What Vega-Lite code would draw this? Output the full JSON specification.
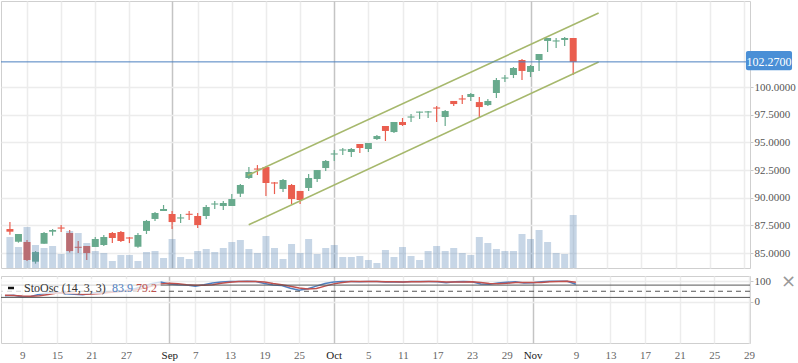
{
"$schema": "https://vega.github.io/schema/vega-lite/v6.json",
"padding": 0,
"background": "white",
"bounds": "flush",
"spacing": 8,
"config": {"view": {"stroke": "#cfcfcf"}, "font": "Liberation Serif"},
"datasets": {
"ohlc": [
{"i":0,"o":87.17,"h":87.80,"l":86.66,"c":86.93,"v":3.1},
{"i":1,"o":86.03,"h":86.72,"l":85.94,"c":86.72,"v":2.1},
{"i":2,"o":86.00,"h":86.18,"l":84.28,"c":84.37,"v":4.1},
{"i":3,"o":84.22,"h":85.18,"l":84.04,"c":85.09,"v":2.3},
{"i":4,"o":85.84,"h":86.90,"l":85.84,"c":86.81,"v":2.0},
{"i":5,"o":86.93,"h":87.17,"l":86.57,"c":87.08,"v":2.2},
{"i":6,"o":87.31,"h":87.53,"l":86.90,"c":87.21,"v":1.4},
{"i":7,"o":86.81,"h":87.08,"l":85.06,"c":85.18,"v":3.7},
{"i":8,"o":85.57,"h":86.09,"l":85.00,"c":85.47,"v":3.5},
{"i":9,"o":85.64,"h":85.64,"l":84.37,"c":85.00,"v":2.5},
{"i":10,"o":85.55,"h":86.45,"l":85.55,"c":86.27,"v":1.7},
{"i":11,"o":85.73,"h":86.63,"l":85.64,"c":86.45,"v":1.5},
{"i":12,"o":86.81,"h":86.90,"l":85.90,"c":86.36,"v":0.7},
{"i":13,"o":86.90,"h":86.99,"l":86.00,"c":86.09,"v":1.3},
{"i":14,"o":86.41,"h":86.45,"l":85.90,"c":86.31,"v":1.3},
{"i":15,"o":85.57,"h":86.81,"l":85.48,"c":86.63,"v":0.7},
{"i":16,"o":87.00,"h":87.99,"l":86.72,"c":87.90,"v":1.6},
{"i":17,"o":88.08,"h":88.71,"l":87.90,"c":88.62,"v":1.7},
{"i":18,"o":88.80,"h":89.34,"l":88.80,"c":88.98,"v":1.0},
{"i":19,"o":88.53,"h":88.80,"l":87.17,"c":87.80,"v":2.9},
{"i":20,"o":88.12,"h":88.53,"l":87.71,"c":88.22,"v":1.1},
{"i":21,"o":88.55,"h":88.80,"l":87.99,"c":88.45,"v":0.9},
{"i":22,"o":88.35,"h":88.62,"l":87.26,"c":87.53,"v":1.7},
{"i":23,"o":88.35,"h":89.34,"l":88.08,"c":89.16,"v":1.9},
{"i":24,"o":89.38,"h":89.70,"l":88.98,"c":89.48,"v":1.6},
{"i":25,"o":89.25,"h":89.70,"l":88.89,"c":89.52,"v":2.0},
{"i":26,"o":89.25,"h":90.33,"l":89.25,"c":89.88,"v":2.6},
{"i":27,"o":90.36,"h":91.24,"l":90.06,"c":91.15,"v":2.8},
{"i":28,"o":91.78,"h":92.77,"l":91.69,"c":92.32,"v":1.9},
{"i":29,"o":92.64,"h":92.95,"l":92.05,"c":92.54,"v":1.5},
{"i":30,"o":92.77,"h":92.86,"l":90.15,"c":91.33,"v":3.2},
{"i":31,"o":91.38,"h":91.42,"l":90.33,"c":91.28,"v":2.0},
{"i":32,"o":90.79,"h":91.69,"l":90.51,"c":91.60,"v":0.9},
{"i":33,"o":91.15,"h":91.24,"l":89.43,"c":89.88,"v":2.4},
{"i":34,"o":90.61,"h":90.61,"l":89.43,"c":89.79,"v":1.5},
{"i":35,"o":90.88,"h":92.14,"l":90.61,"c":91.78,"v":2.9},
{"i":36,"o":91.69,"h":92.50,"l":91.42,"c":92.50,"v":1.4},
{"i":37,"o":92.68,"h":93.41,"l":92.41,"c":93.32,"v":2.0},
{"i":38,"o":93.90,"h":94.31,"l":93.32,"c":94.00,"v":2.3},
{"i":39,"o":94.26,"h":94.49,"l":93.86,"c":94.36,"v":1.1},
{"i":40,"o":94.13,"h":94.49,"l":93.68,"c":94.40,"v":1.1},
{"i":41,"o":94.85,"h":94.85,"l":94.04,"c":94.49,"v":1.2},
{"i":42,"o":94.40,"h":94.94,"l":94.13,"c":94.94,"v":0.8},
{"i":43,"o":95.30,"h":95.66,"l":95.21,"c":95.57,"v":0.5},
{"i":44,"o":96.48,"h":96.48,"l":95.12,"c":96.03,"v":1.8},
{"i":45,"o":95.93,"h":96.84,"l":95.84,"c":96.84,"v":1.1},
{"i":46,"o":96.84,"h":97.20,"l":96.48,"c":96.57,"v":2.1},
{"i":47,"o":97.24,"h":97.56,"l":96.84,"c":97.34,"v":1.2},
{"i":48,"o":97.68,"h":97.78,"l":97.11,"c":97.78,"v":0.8},
{"i":49,"o":97.70,"h":97.83,"l":97.20,"c":97.80,"v":1.7},
{"i":50,"o":98.15,"h":98.28,"l":96.84,"c":98.05,"v":2.2},
{"i":51,"o":97.29,"h":97.92,"l":96.48,"c":97.83,"v":1.7},
{"i":52,"o":98.74,"h":98.74,"l":98.28,"c":98.46,"v":2.0},
{"i":53,"o":98.97,"h":99.28,"l":98.46,"c":98.87,"v":1.5},
{"i":54,"o":99.10,"h":99.46,"l":98.74,"c":99.37,"v":1.3},
{"i":55,"o":98.64,"h":99.10,"l":97.30,"c":98.19,"v":3.1},
{"i":56,"o":98.37,"h":98.92,"l":98.28,"c":98.74,"v":2.5},
{"i":57,"o":99.46,"h":100.81,"l":99.00,"c":100.63,"v":1.9},
{"i":58,"o":100.76,"h":101.08,"l":100.45,"c":100.86,"v":1.7},
{"i":59,"o":101.08,"h":101.81,"l":100.81,"c":101.72,"v":1.7},
{"i":60,"o":102.44,"h":102.53,"l":100.63,"c":101.45,"v":3.4},
{"i":61,"o":101.36,"h":101.99,"l":100.90,"c":101.90,"v":2.9},
{"i":62,"o":102.44,"h":102.98,"l":101.45,"c":102.98,"v":3.8},
{"i":63,"o":104.16,"h":104.43,"l":103.16,"c":104.43,"v":2.6},
{"i":64,"o":104.11,"h":104.43,"l":103.52,"c":104.21,"v":1.5},
{"i":65,"o":104.25,"h":104.52,"l":103.70,"c":104.43,"v":1.4},
{"i":66,"o":104.43,"h":104.43,"l":101.08,"c":102.27,"v":5.3}
],
"osc": [
{"i":0,"k":28,"d":30},{"i":1,"k":30,"d":29},{"i":2,"k":22,"d":27},{"i":3,"k":25,"d":26},{"i":4,"k":35,"d":28},
{"i":5,"k":42,"d":34},{"i":6,"k":45,"d":41},{"i":7,"k":38,"d":42},{"i":8,"k":35,"d":39},{"i":9,"k":33,"d":35},
{"i":10,"k":40,"d":36},{"i":11,"k":45,"d":39},{"i":12,"k":48,"d":44},{"i":13,"k":50,"d":48},{"i":14,"k":55,"d":51},
{"i":15,"k":62,"d":56},{"i":16,"k":75,"d":64},{"i":17,"k":88,"d":75},{"i":18,"k":95,"d":86},{"i":19,"k":85,"d":89},
{"i":20,"k":82,"d":87},{"i":21,"k":80,"d":82},{"i":22,"k":75,"d":79},{"i":23,"k":82,"d":79},{"i":24,"k":90,"d":82},
{"i":25,"k":95,"d":89},{"i":26,"k":97,"d":94},{"i":27,"k":98,"d":97},{"i":28,"k":99,"d":98},{"i":29,"k":97,"d":98},
{"i":30,"k":88,"d":95},{"i":31,"k":80,"d":88},{"i":32,"k":78,"d":82},{"i":33,"k":65,"d":74},{"i":34,"k":55,"d":66},
{"i":35,"k":62,"d":61},{"i":36,"k":75,"d":64},{"i":37,"k":88,"d":75},{"i":38,"k":95,"d":86},{"i":39,"k":97,"d":93},
{"i":40,"k":98,"d":97},{"i":41,"k":96,"d":97},{"i":42,"k":97,"d":97},{"i":43,"k":98,"d":97},{"i":44,"k":95,"d":96},
{"i":45,"k":96,"d":96},{"i":46,"k":95,"d":95},{"i":47,"k":97,"d":96},{"i":48,"k":97,"d":96},{"i":49,"k":97,"d":97},
{"i":50,"k":96,"d":97},{"i":51,"k":92,"d":95},{"i":52,"k":96,"d":95},{"i":53,"k":97,"d":95},{"i":54,"k":96,"d":96},
{"i":55,"k":85,"d":93},{"i":56,"k":84,"d":88},{"i":57,"k":90,"d":86},{"i":58,"k":94,"d":89},{"i":59,"k":96,"d":93},
{"i":60,"k":90,"d":93},{"i":61,"k":92,"d":93},{"i":62,"k":96,"d":93},{"i":63,"k":99,"d":96},{"i":64,"k":99,"d":98},
{"i":65,"k":99,"d":99},{"i":66,"k":83.9,"d":94}
],
"chan": [
{"g":"upper","i":27.86,"p":92.02},{"g":"upper","i":68.98,"p":106.68},
{"g":"lower","i":27.98,"p":87.56},{"g":"lower","i":68.98,"p":102.26}
]
},
"vconcat": [
{
"width": 749, "height": 267,
"resolve": {"scale": {"y": "independent"}},
"layer": [
{"data": {"name": "ohlc"}, "mark": {"type": "rule", "strokeWidth": 1.2},
 "encoding": {
  "x": {"field": "i", "type": "quantitative", "scale": {"domain": [-0.46, 86.13], "nice": false, "zero": false},
        "axis": {"values": [2,6,10,14,19,22,26,30,34,38,42,46,50,54,58,61,66,70,74,78,82,86], "tickCount": 200, "labels": false, "ticks": false, "domain": false, "title": null, "grid": true, "gridWidth": 1.5,
                 "gridColor": {"condition": {"test": "indexof([19,38,61], datum.value) >= 0", "value": "#c4c4c4"}, "value": "#ececec"}}},
  "y": {"field": "l", "type": "quantitative", "scale": {"domain": [83.65, 107.77], "nice": false, "zero": false},
        "axis": {"orient": "right", "values": [85,87.5,90,92.5,95,97.5,100], "tickCount": 200, "format": ".4f", "grid": true, "gridColor": "#ececec", "gridWidth": 1.5, "tickSize": 3, "tickColor": "#c8c8c8", "domain": false, "labelPadding": 1, "labelFontSize": 11, "labelColor": "#555", "labelFont": "Liberation Serif", "title": null}},
  "y2": {"field": "h"},
  "color": {"condition": {"test": "datum.c >= datum.o", "value": "#68aa8d"}, "value": "#ea5e4f"}
 }},
{"data": {"name": "ohlc"}, "mark": {"type": "bar", "size": 7},
 "encoding": {
  "x": {"field": "i", "type": "quantitative", "scale": {"domain": [-0.46, 86.13], "nice": false, "zero": false}},
  "y": {"field": "o", "type": "quantitative", "scale": {"domain": [83.65, 107.77], "nice": false, "zero": false}, "axis": null},
  "y2": {"field": "c"},
  "color": {"condition": {"test": "datum.c >= datum.o", "value": "#68aa8d"}, "value": "#ea5e4f"}
 }},
{"data": {"name": "ohlc"}, "mark": {"type": "bar", "size": 7, "orient": "vertical", "color": "#5f8ab8", "opacity": 0.35},
 "encoding": {
  "x": {"field": "i", "type": "quantitative", "scale": {"domain": [-0.46, 86.13], "nice": false, "zero": false}},
  "y": {"field": "v", "type": "quantitative", "scale": {"domain": [0, 26.7], "nice": false, "zero": true}, "axis": null}
 }},
{"data": {"name": "chan"}, "mark": {"type": "line", "color": "#a6b86c", "strokeWidth": 1.6},
 "encoding": {
  "x": {"field": "i", "type": "quantitative", "scale": {"domain": [-0.46, 86.13], "nice": false, "zero": false}},
  "y": {"field": "p", "type": "quantitative", "scale": {"domain": [83.65, 107.77], "nice": false, "zero": false}, "axis": null},
  "detail": {"field": "g"}
 }},
{"data": {"values": [{"p": 102.27}]}, "mark": {"type": "rule", "color": "#4a7fbf", "strokeWidth": 1},
 "encoding": {
  "y": {"field": "p", "type": "quantitative", "scale": {"domain": [83.65, 107.77], "nice": false, "zero": false}, "axis": null}
 }},
{"data": {"values": [{}]}, "mark": {"type": "rect", "color": "#4a8fd6", "cornerRadius": 2},
 "encoding": {
  "x": {"datum": 86.24, "type": "quantitative", "scale": {"domain": [-0.46, 86.13], "nice": false, "zero": false}},
  "x2": {"datum": 91.64},
  "y": {"datum": 103.25, "type": "quantitative", "scale": {"domain": [83.65, 107.77], "nice": false, "zero": false}, "axis": null},
  "y2": {"datum": 101.51}
 }},
{"data": {"values": [{"p": 102.27}]}, "mark": {"type": "text", "color": "white", "fontSize": 12, "font": "Liberation Serif", "align": "center", "baseline": "middle"},
 "encoding": {
  "x": {"datum": 88.94, "type": "quantitative", "scale": {"domain": [-0.46, 86.13], "nice": false, "zero": false}},
  "y": {"field": "p", "type": "quantitative", "scale": {"domain": [83.65, 107.77], "nice": false, "zero": false}, "axis": null},
  "text": {"field": "p", "type": "quantitative", "format": ".4f"}
 }}
]
},
{
"width": 749, "height": 67,
"layer": [
{"data": {"name": "osc"}, "mark": {"type": "line", "color": "#4f7fc0", "strokeWidth": 1.5},
 "encoding": {
  "x": {"field": "i", "type": "quantitative", "scale": {"domain": [-0.46, 86.13], "nice": false, "zero": false},
        "axis": {"values": [2,6,10,14,19,22,26,30,34,38,42,46,50,54,58,61,66,70,74,78,82,86], "tickCount": 200,
                 "labelExpr": "['9','15','21','27','Sep','7','13','19','25','Oct','5','11','17','23','29','Nov','9','13','17','21','25','29'][indexof([2,6,10,14,19,22,26,30,34,38,42,46,50,54,58,61,66,70,74,78,82,86], datum.value)]",
                 "ticks": false, "domain": false, "title": null, "grid": true, "gridWidth": 1.5,
                 "gridColor": {"condition": {"test": "indexof([19,38,61], datum.value) >= 0", "value": "#c4c4c4"}, "value": "#ececec"},
                 "labelColor": {"condition": {"test": "indexof([19,38,61], datum.value) >= 0", "value": "#222"}, "value": "#666"},
                 "labelFont": "Liberation Serif", "labelFontSize": 11, "labelPadding": 6, "labelFlush": false, "labelOverlap": false}},
  "y": {"field": "k", "type": "quantitative", "scale": {"domain": [-202.4, 124.4], "nice": false, "zero": false},
        "axis": {"orient": "right", "values": [0, 100], "grid": true, "gridColor": "#ececec", "gridWidth": 1.5, "tickSize": 3, "tickColor": "#c8c8c8", "domain": false, "labelPadding": 1, "labelFontSize": 11, "labelColor": "#555", "labelFont": "Liberation Serif",
                 "title": "×", "titleAngle": 0, "titleX": 38, "titleY": 5, "titleAlign": "center", "titleBaseline": "middle", "titleFontSize": 18, "titleFontWeight": "normal", "titleColor": "#999", "titleFont": "DejaVu Sans"}}
 }},
{"data": {"name": "osc"}, "mark": {"type": "line", "color": "#c0504d", "strokeWidth": 1.5},
 "encoding": {
  "x": {"field": "i", "type": "quantitative", "scale": {"domain": [-0.46, 86.13], "nice": false, "zero": false}},
  "y": {"field": "d", "type": "quantitative"}
 }},
{"data": {"values": [{"lv": 80}, {"lv": 20}]}, "mark": {"type": "rule", "color": "#555", "strokeWidth": 1},
 "encoding": {"y": {"field": "lv", "type": "quantitative"}}},
{"data": {"values": [{"lv": 50}]}, "mark": {"type": "rule", "color": "#555", "strokeWidth": 1, "strokeDash": [5, 4]},
 "encoding": {"y": {"field": "lv", "type": "quantitative"}}},
{"data": {"values": [{}]}, "mark": {"type": "rect", "color": "white", "opacity": 0.75},
 "encoding": {
  "x": {"datum": -0.46, "type": "quantitative"}, "x2": {"datum": 18.0},
  "y": {"datum": 109.8, "type": "quantitative"}, "y2": {"datum": 36.6}
 }},
{"data": {"values": [{}]}, "mark": {"type": "rule", "color": "#111", "strokeWidth": 2.5},
 "encoding": {
  "x": {"datum": 0.35, "type": "quantitative"}, "x2": {"datum": 1.04},
  "y": {"datum": 65.9, "type": "quantitative"}
 }},
{"data": {"values": [{}]}, "mark": {"type": "text", "text": "StoOsc (14, 3, 3)", "color": "#333", "fontSize": 12, "font": "Liberation Serif", "align": "left", "baseline": "middle"},
 "encoding": {"x": {"datum": 2.2, "type": "quantitative"}, "y": {"datum": 65.9, "type": "quantitative"}}},
{"data": {"values": [{}]}, "mark": {"type": "text", "text": "83.9", "color": "#4f7fc0", "fontSize": 12, "font": "Liberation Serif", "align": "left", "baseline": "middle"},
 "encoding": {"x": {"datum": 12.37, "type": "quantitative"}, "y": {"datum": 65.9, "type": "quantitative"}}},
{"data": {"values": [{}]}, "mark": {"type": "text", "text": "79.2", "color": "#c0504d", "fontSize": 12, "font": "Liberation Serif", "align": "left", "baseline": "middle"},
 "encoding": {"x": {"datum": 15.14, "type": "quantitative"}, "y": {"datum": 65.9, "type": "quantitative"}}}
]
}
]
}
